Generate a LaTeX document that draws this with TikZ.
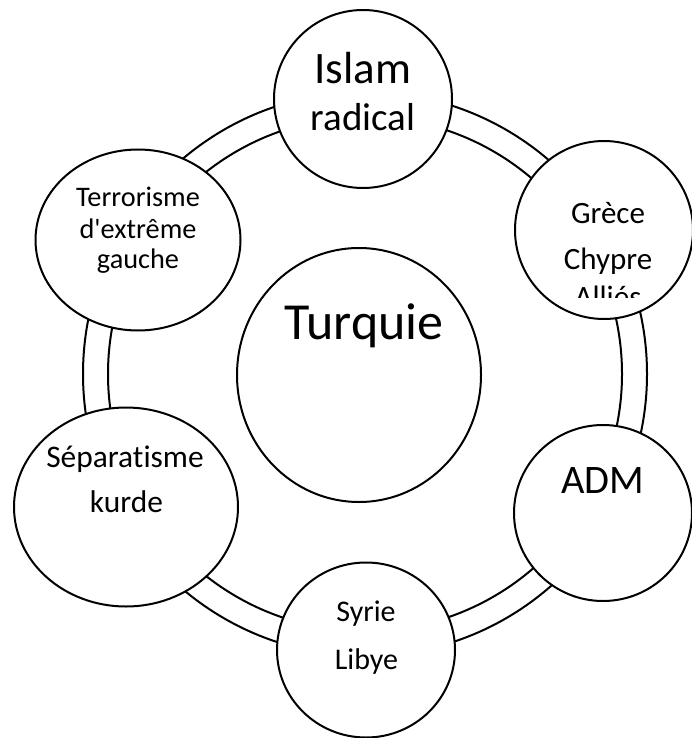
\documentclass[tikz,border=0pt]{standalone}
\usepackage{fontspec}
\newfontfamily\calfont{Carlito}[Ligatures={NoCommon,NoDiscretionary,NoContextual}]
\usetikzlibrary{shapes.geometric}
\begin{document}
\begin{tikzpicture}[x=1pt,y=-1pt,
  ringline/.style={draw=black, line width=2pt},
  bub/.style={draw=black, line width=2pt, fill=white, ellipse, inner sep=0pt, outer sep=0pt},
  txt/.style={inner sep=0pt, anchor=base, text=black}]
\useasboundingbox (0,0) rectangle (692,738);
% ring
\coordinate (rc) at (365,374);
\draw[ringline] (rc) circle[radius=282];
\draw[ringline] (rc) circle[radius=257];
% bubbles
\node[bub, minimum width=178pt, minimum height=178pt] (islam) at (363,99) {};
\node[bub, minimum width=178pt, minimum height=178pt] (grece) at (604,230) {};
\node[bub, minimum width=178pt, minimum height=176pt] (adm) at (603,513) {};
\node[bub, minimum width=178pt, minimum height=175pt] (syrie) at (366,650) {};
\node[bub, minimum width=224pt, minimum height=199pt] (separ) at (126,507) {};
\node[bub, minimum width=205pt, minimum height=181pt] (terror) at (138,240) {};
\node[bub, minimum width=244pt, minimum height=254pt] (turq) at (359,375) {};
% texts
\node[txt] (t1) at (363,84) {\calfont\fontsize{45}{54}\selectfont Islam};
\node[txt] (t2) at (363,131) {\calfont\fontsize{39}{47}\selectfont radical};
\node[txt] (t3) at (364,339) {\calfont\fontsize{52}{62}\selectfont Turquie};
\node[txt] (t4) at (608,223) {\calfont\fontsize{31}{37}\selectfont Grèce};
\node[txt] (t5) at (608,269) {\calfont\fontsize{31}{37}\selectfont Chypre};
\begin{scope}
\clip (500,250) rectangle (692,297);
\node[txt] (t6) at (608,307) {\calfont\fontsize{31}{37}\selectfont Alliés};
\end{scope}
\node[txt] (t7) at (603,493) {\calfont\fontsize{40.5}{48}\selectfont ADM};
\node[txt] (t8) at (366,621) {\calfont\fontsize{30}{36}\selectfont Syrie};
\node[txt] (t9) at (366.5,669) {\calfont\fontsize{30}{36}\selectfont Libye};
\node[txt] (t10) at (125,467) {\calfont\fontsize{31.4}{38}\selectfont Séparatisme};
\node[txt] (t11) at (126.5,512) {\calfont\fontsize{31.4}{38}\selectfont kurde};
\node[txt] (t12) at (138,206) {\calfont\fontsize{28.3}{34}\selectfont Terrorisme};
\node[txt] (t13) at (138,238) {\calfont\fontsize{28.3}{34}\selectfont d'extrême};
\node[txt] (t14) at (138,268) {\calfont\fontsize{28.3}{34}\selectfont gauche};
\end{tikzpicture}
\end{document}
